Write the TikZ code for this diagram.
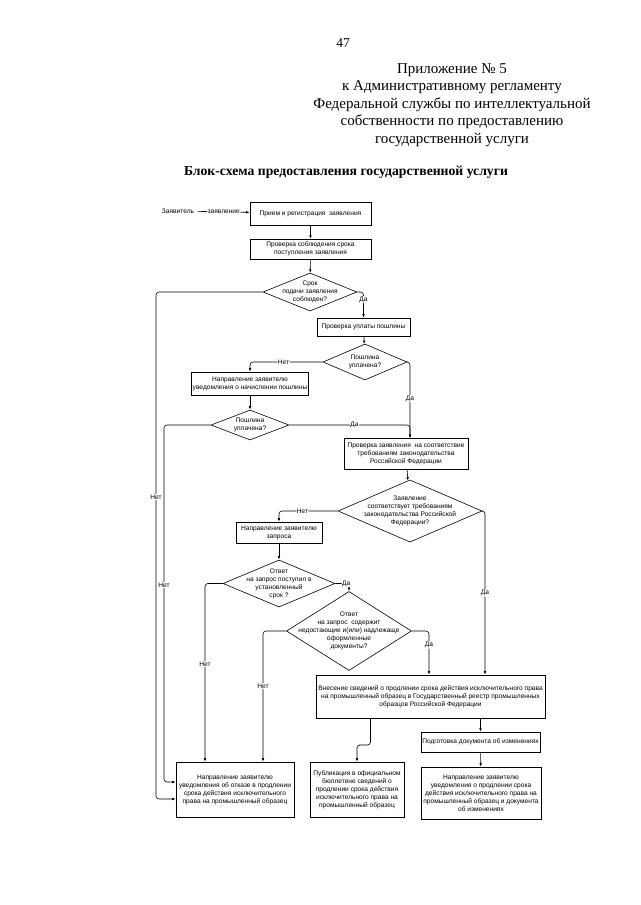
\documentclass[tikz,border=0pt]{standalone}
\usepackage{fontspec}
\setmainfont{Liberation Serif}
\newfontfamily\blockfont{Liberation Sans}
\usetikzlibrary{shapes.geometric,arrows.meta,shadows}

\newcommand{\bschrift}{\blockfont\fontsize{6.6}{8}\selectfont}

\tikzset{
	block/.style={draw, rectangle, fill=white, font=\bschrift, align=center, inner sep=1pt,
		drop shadow={shadow xshift=1pt, shadow yshift=-1pt, opacity=1, fill=black}},
	raute/.style={draw, diamond, font=\bschrift, align=center, inner sep=-15pt},
	pfeil/.style={-{Latex[length=3.5pt,width=2.5pt]}, rounded corners=3pt},
	beschr/.style={font=\bschrift, fill=white, inner sep=0.6pt}
}

\begin{document}
\begin{tikzpicture}[x=1pt, y=-1pt, line width=0.6pt]
\useasboundingbox[fill=white] (0,0) rectangle (640,905);

%Kopf
\node[font=\fontsize{13.5}{16}\selectfont] (seite) at (343,43) {47};
\node[font=\fontsize{15}{17.5}\selectfont, align=center] (anhang) at (452,105)
	{Приложение № 5\\к Административному регламенту\\Федеральной службы по интеллектуальной\\собственности по предоставлению\\государственной услуги};
\node[font=\fontsize{13.7}{16}\selectfont\bfseries] (titel) at (346,172) {Блок-схема предоставления государственной услуги};

%Bloecke
\node[font=\bschrift] (zv) at (178,211) {Заявитель};
\node[block, minimum width=121, minimum height=23] (b1) at (310.5,213.5) {Прием и регистрация \ заявления};
\node[block, minimum width=121, minimum height=20] (b2) at (310.5,249) {Проверка соблюдения срока\\поступления заявления};
\node[raute, minimum width=94, minimum height=38] (d1) at (310,292) {Срок\\подачи заявления\\соблюден?};
\node[block, minimum width=93, minimum height=18] (b3) at (363.5,327) {Проверка уплаты пошлины};
\node[raute, minimum width=84, minimum height=36] (d2) at (365,362) {Пошлина\\уплачена?};
\node[block, minimum width=116, minimum height=23] (b4) at (250,383.5) {Направление заявителю\\уведомления о начислении пошлины};
\node[raute, minimum width=78, minimum height=30] (d3) at (250,425) {Пошлина\\уплачена?};
\node[block, minimum width=124, minimum height=31] (b5) at (406,453.5) {Проверка заявления \ на соответствие\\требованиям законодательства\\Российской Федерации};
\node[raute, minimum width=144, minimum height=53] (d4) at (410,511) {Заявление\\соответствует требованиям\\законодательства Российской\\Федерации?};
\node[block, minimum width=86, minimum height=21] (b6) at (279,532.5) {Направление заявителю\\запроса};
\node[raute, minimum width=112, minimum height=47] (d5) at (279,583.5) {Ответ\\на запрос поступил в\\установленный\\срок ?};
\node[raute, minimum width=125, minimum height=62] (d6) at (349,631) {Ответ\\на запрос \ содержит\\недостающие и(или) надлежаще\\оформленные\\документы?};
\node[block, minimum width=229, minimum height=43] (b7) at (430.5,696.5) {Внесение сведений о продлении срока действия исключительного права\\на промышленный образец в Государственный реестр промышленных\\образцов Российской Федерации};
\node[block, minimum width=119, minimum height=20] (b8) at (480.5,742) {Подготовка документа об изменениях};
\node[block, minimum width=94, minimum height=55] (b9) at (357,789.5) {Публикация в официальном\\бюллетене сведений о\\продлении срока действия\\исключительного права на\\промышленный образец};
\node[block, minimum width=120, minimum height=52] (b10) at (481,793) {Направление заявителю\\уведомления о продлении срока\\действия исключительного права на\\промышленный образец и документа\\об изменениях};
\node[block, minimum width=118, minimum height=55] (abl) at (235,789.5) {Направление заявителю\\уведомления об отказе в продлении\\срока действия исключительного\\права на промышленный образец};

%Hilfspunkte
\coordinate (k1) at (156,497);
\coordinate (k2) at (164,585);
\coordinate (k3) at (485,593);
\coordinate (k4) at (205,664);
\coordinate (k5) at (263,686);
\coordinate (k6) at (429,645);
\coordinate (k7) at (362,745);
\coordinate (b5in) at (410,438);

%Verbindungen
\draw[pfeil] (zv) -- node[beschr]{заявление} (b1);
\draw[pfeil] (b1) -- (b2);
\draw[pfeil] (b2) -- (d1);
\draw[pfeil] (d1.east) -| node[beschr, pos=0.65]{Да} (b3.north);
\draw[pfeil] (d1.west) -| (k1) node[beschr]{Нет} |- ([yshift=-9.5pt]abl.west);
\draw[pfeil] (b3) -- (d2);
\draw[pfeil] (d2.west) -| node[beschr, pos=0.27]{Нет} (b4.north);
\draw[pfeil] (d2.east) -| node[beschr, pos=0.74]{Да} (b5in);
\draw[pfeil] (b4) -- (d3);
\draw[pfeil] (d3.east) -| node[beschr, pos=0.27]{Да} (b5in);
\draw[pfeil] (d3.west) -| (k2) node[beschr]{Нет} |- ([yshift=7.5pt]abl.west);
\draw[pfeil] (b5) -- (d4);
\draw[pfeil] (d4.west) -| node[beschr, pos=0.3]{Нет} (b6.north);
\draw[pfeil] (d4.east) -| (k3) node[beschr]{Да} -- (k3 |- b7.north);
\draw[pfeil] (b6) -- (d5);
\draw[pfeil] (d5.east) -| node[beschr, pos=0.4]{Да} (d6.north);
\draw[pfeil] (d5.west) -| (k4) node[beschr]{Нет} -- (k4 |- abl.north);
\draw[pfeil] (d6.west) -| (k5) node[beschr]{Нет} -- (k5 |- abl.north);
\draw[pfeil] (d6.east) -| (k6) node[beschr]{Да} -- (k6 |- b7.north);
\draw[pfeil] ([xshift=-60pt]b7.south) |- (k7) -| (b9.north);
\draw[pfeil] (b8.north |- b7.south) -- (b8.north);
\draw[pfeil] (b8) -- (b10);

\end{tikzpicture}
\end{document}
